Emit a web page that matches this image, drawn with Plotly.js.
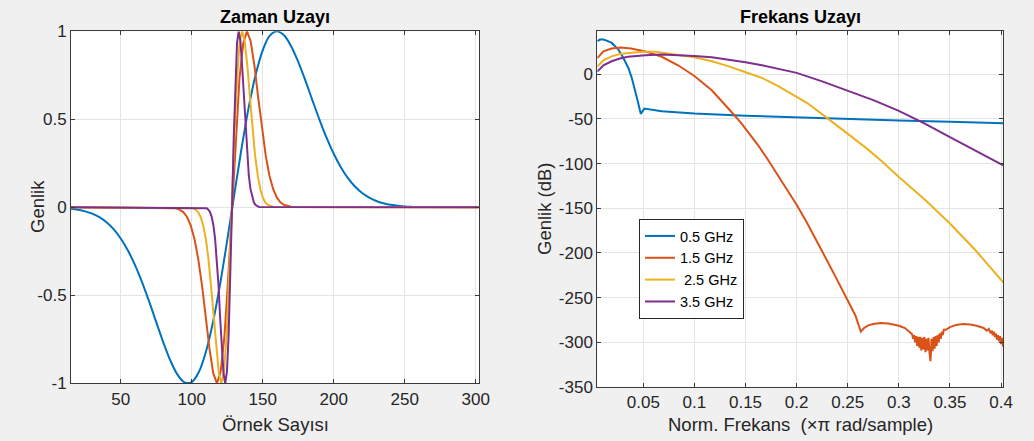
<!DOCTYPE html>
<html>
<head>
<meta charset="utf-8">
<script src="https://cdn.plot.ly/plotly-3.0.1.min.js"></script>
<style>
  html, body { margin: 0; padding: 0; background: #f0f0f0; }
  #chart { width: 1034px; height: 441px; }
</style>
</head>
<body>
<div id="chart"></div>
<script>
// Series labels and colours
const seriesNames = ['0.5 GHz', '1.5 GHz', ' 2.5 GHz', '3.5 GHz'];
const seriesColors = ['#0072BD', '#D95319', '#EDB120', '#7E2F8E'];

// ---- Time domain (Zaman Uzayı): sample number vs normalised amplitude ----
const tBlueX = [15,20,25,30,35,40,45,50,55,60,65,70,75,80,85,90,95,100,105,110,115,120,125,130,135,140,145,150,155,160,165,170,175,180,185,190,195,200,205,210,215,220,225,230,235,240,245,250,255];
const tBlueY = [-0.008,-0.014,-0.023,-0.036,-0.056,-0.085,-0.124,-0.177,-0.244,-0.327,-0.425,-0.535,-0.652,-0.767,-0.871,-0.951,-0.995,-0.993,-0.936,-0.821,-0.652,-0.436,-0.188,0.074,0.330,0.562,0.753,0.892,0.975,1.000,0.977,0.915,0.826,0.721,0.608,0.497,0.394,0.304,0.228,0.166,0.118,0.081,0.055,0.036,0.023,0.014,0.009,0.005,0.003];

const tOrangeX = [15,86.2,88.8,91.4,94.1,96.7,99.3,102.0,104.6,107.3,109.9,112.5,115.2,117.8,120.4,123.1,125.7,128.4,131.0,133.6,136.3,138.9,141.5,144.2,146.8,149.5,152.1,154.7,157.4,160.0,162.6,165.3,167.9,170.6,302];
const tOrangeY = [0,-0.002,-0.006,-0.013,-0.027,-0.055,-0.103,-0.181,-0.295,-0.446,-0.624,-0.803,-0.944,-1.000,-0.933,-0.728,-0.400,0.000,0.400,0.728,0.933,1.000,0.944,0.803,0.624,0.446,0.295,0.181,0.103,0.055,0.027,0.013,0.006,0.002,0];

const tYellowX = [15,99.0,100.8,102.7,104.5,106.3,108.1,110.0,111.8,113.6,115.4,117.3,119.1,120.9,122.7,124.6,126.4,128.2,130.0,131.9,133.7,135.5,137.3,139.2,141.0,142.8,144.6,146.5,148.3,150.1,151.9,153.8,155.6,157.4,302];
const tYellowY = [0,-0.002,-0.006,-0.013,-0.027,-0.055,-0.103,-0.181,-0.295,-0.446,-0.624,-0.803,-0.944,-1.000,-0.933,-0.728,-0.400,0.000,0.400,0.728,0.933,1.000,0.944,0.803,0.624,0.446,0.295,0.181,0.103,0.055,0.027,0.013,0.006,0.002,0];

const tPurpleX = [15,109.4,110.6,111.7,112.9,114.1,115.3,116.5,117.7,118.9,120.0,121.2,122.4,123.6,124.8,126.0,127.2,128.4,129.6,130.7,131.9,133.1,134.3,135.5,136.7,137.9,139.1,140.2,141.4,142.6,143.8,145.0,146.2,147.4,302];
const tPurpleY = [0,-0.002,-0.006,-0.013,-0.027,-0.055,-0.103,-0.181,-0.295,-0.446,-0.624,-0.803,-0.944,-1.000,-0.933,-0.728,-0.400,0.000,0.400,0.728,0.933,1.000,0.944,0.803,0.624,0.446,0.295,0.181,0.103,0.055,0.027,0.013,0.006,0.002,0];

// ---- Frequency domain (Frekans Uzayı): normalised frequency vs dB ----
const fBlueX = [0.005,0.0076,0.0109,0.0142,0.0191,0.0256,0.0305,0.0354,0.0387,0.042,0.0446,0.0475,0.051,0.068,0.1,0.15,0.2,0.25,0.3,0.35,0.4022];
const fBlueY = [36.9,38.7,38.7,37.6,35,27.6,18.2,7,-4.1,-17.2,-30.2,-44.4,-38.5,-41.4,-44,-46.5,-48.5,-50.2,-51.9,-53.3,-55];

const fOrangeX = [0.005,0.011,0.019,0.028,0.038,0.052,0.068,0.084,0.1,0.117,0.125,0.133,0.138,0.146,0.154,0.162,0.171,0.179,0.187,0.195,0.2,0.21,0.22,0.23,0.24,0.25,0.2575,0.2628,
  0.266,0.27,0.275,0.282,0.29,0.3,0.306,0.31,
  0.313,0.314,0.315,0.316,0.317,0.318,0.319,0.32,0.321,0.322,0.323,0.324,0.325,0.326,0.327,0.328,0.329,0.33,0.331,0.332,0.333,0.334,0.335,0.336,0.337,0.338,0.339,0.34,0.341,0.342,0.343,0.344,
  0.346,0.35,0.356,0.363,0.37,0.376,0.38,
  0.383,0.386,0.388,0.39,0.391,0.392,0.393,0.394,0.395,0.396,0.397,0.398,0.399,0.4,0.401,0.4022];
const fOrangeY = [18,25.5,28.7,30,28.8,25.5,19.5,10,-2,-18,-28,-37.5,-44.5,-55,-66.5,-79,-94,-108,-123,-137,-146,-166,-187,-209,-231,-254,-270,-288,
  -284,-281,-279.5,-278.5,-279,-281.5,-284,-288,
  -291,-296,-292,-300,-293,-304,-294,-306,-294,-309,-295,-308,-294,-311,-296,-309,-295,-312,-321,-296,-310,-294,-307,-293,-304,-292,-300,-290,-296,-288,-292,-286,
  -286,-283,-280.5,-279.5,-280,-281.5,-283,
  -284,-287,-285,-290,-287,-292,-288,-294,-290,-297,-292,-299,-293,-302,-295,-305];

const fYellowX = [0.005,0.011,0.019,0.027,0.035,0.05,0.062,0.084,0.1,0.117,0.133,0.15,0.166,0.182,0.2,0.21,0.231,0.25,0.2685,0.285,0.3,0.325,0.35,0.375,0.4022];
const fYellowY = [8.5,15.6,20,22.5,23.8,25,25,22,19,14.5,9,2.2,-4.1,-13.4,-25,-32,-50,-66.5,-83,-99,-115,-140,-167,-197,-233];

const fPurpleX = [0.005,0.011,0.019,0.027,0.035,0.052,0.068,0.084,0.1,0.117,0.133,0.15,0.166,0.182,0.2,0.225,0.25,0.275,0.3,0.325,0.35,0.376,0.4022];
const fPurpleY = [3,10,14.5,17.5,19.4,21.3,22,21.6,20.5,19,16.4,13.4,10,6.3,1.5,-8,-18.5,-29,-41,-55,-70.5,-86,-102];

// ---- Tick labels ----
const timeTicks = [50,100,150,200,250,300];
const timeTickText = ['50','100','150','200','250','300'];
const ampTicks = [-1,-0.5,0,0.5,1];
const ampTickText = ['-1','-0.5','0','0.5','1'];
const freqTicks = [0.05,0.1,0.15,0.2,0.25,0.3,0.35,0.4];
const freqTickText = ['0.05','0.1','0.15','0.2','0.25','0.3','0.35','0.4'];
const dbTicks = [-350,-300,-250,-200,-150,-100,-50,0];
const dbTickText = ['-350','-300','-250','-200','-150','-100','-50','0'];

const timeSeries = [[tBlueX,tBlueY],[tOrangeX,tOrangeY],[tYellowX,tYellowY],[tPurpleX,tPurpleY]];
const freqSeries = [[fBlueX,fBlueY],[fOrangeX,fOrangeY],[fYellowX,fYellowY],[fPurpleX,fPurpleY]];

const traces = [];
timeSeries.forEach(([x, y], i) => {
  traces.push({
    x: x, y: y, type: 'scatter', mode: 'lines', xaxis: 'x', yaxis: 'y',
    name: seriesNames[i], showlegend: false, hoverinfo: 'skip',
    line: { color: seriesColors[i], width: 2, shape: i === 0 ? 'spline' : 'linear' }
  });
});
freqSeries.forEach(([x, y], i) => {
  traces.push({
    x: x, y: y, type: 'scatter', mode: 'lines', xaxis: 'x2', yaxis: 'y2',
    name: seriesNames[i], showlegend: true, hoverinfo: 'skip',
    line: { color: seriesColors[i], width: 2 }
  });
});

const FONT = 'Liberation Sans, Arial, Helvetica, sans-serif';
const W = 1034, H = 441;
const axisBase = {
  showline: true, linecolor: '#3a3a3a', linewidth: 1, mirror: 'ticks',
  ticks: 'inside', ticklen: 4, tickcolor: '#3a3a3a', tickwidth: 1,
  showgrid: true, gridcolor: '#e4e4e4', gridwidth: 1, zeroline: false,
  tickfont: { family: FONT, size: 17, color: '#262626' },
  fixedrange: true
};

const leftDomainX = [71 / W, 479 / W];
const rightDomainX = [597.3 / W, 1003.3 / W];
const leftDomainY = [(H - 383.3) / H, (H - 31.3) / H];
const rightDomainY = [(H - 387) / H, (H - 31.3) / H];

const layout = {
  width: W, height: H,
  margin: { l: 0, r: 0, t: 0, b: 0 },
  paper_bgcolor: '#f0f0f0', plot_bgcolor: '#ffffff',
  font: { family: FONT, color: '#262626' },
  showlegend: true,
  legend: {
    x: 639 / W, y: (H - 219) / H, xanchor: 'left', yanchor: 'top',
    bgcolor: '#ffffff', bordercolor: '#262626', borderwidth: 1,
    font: { family: FONT, size: 14.5, color: '#000000' },
    tracegroupgap: 0
  },
  xaxis: Object.assign({}, axisBase, {
    domain: leftDomainX, anchor: 'y', range: [15, 302.3],
    tickmode: 'array', tickvals: timeTicks, ticktext: timeTickText
  }),
  yaxis: Object.assign({}, axisBase, {
    domain: leftDomainY, anchor: 'x', range: [-1, 1],
    tickmode: 'array', tickvals: ampTicks, ticktext: ampTickText
  }),
  xaxis2: Object.assign({}, axisBase, {
    domain: rightDomainX, anchor: 'y2', range: [0.005, 0.4022],
    tickmode: 'array', tickvals: freqTicks, ticktext: freqTickText
  }),
  yaxis2: Object.assign({}, axisBase, {
    domain: rightDomainY, anchor: 'x2', range: [-350, 48],
    tickmode: 'array', tickvals: dbTicks, ticktext: dbTickText
  }),
  annotations: [
    { text: '<b>Zaman Uzayı</b>', xref: 'paper', yref: 'paper', x: 275 / W, y: (H - 17) / H,
      xanchor: 'center', yanchor: 'middle', showarrow: false, font: { size: 18, color: '#000000' } },
    { text: '<b>Frekans Uzayı</b>', xref: 'paper', yref: 'paper', x: 800.3 / W, y: (H - 17) / H,
      xanchor: 'center', yanchor: 'middle', showarrow: false, font: { size: 18, color: '#000000' } },
    { text: 'Örnek Sayısı', xref: 'paper', yref: 'paper', x: 275 / W, y: (H - 424) / H,
      xanchor: 'center', yanchor: 'middle', showarrow: false, font: { size: 18.5, color: '#262626' } },
    { text: 'Norm. Frekans  (×π rad/sample)', xref: 'paper', yref: 'paper', x: 800.3 / W, y: (H - 424) / H,
      xanchor: 'center', yanchor: 'middle', showarrow: false, font: { size: 18.5, color: '#262626' } },
    { text: 'Genlik', xref: 'paper', yref: 'paper', x: 38 / W, y: (H - 207) / H, textangle: -90,
      xanchor: 'center', yanchor: 'middle', showarrow: false, font: { size: 18.5, color: '#262626' } },
    { text: 'Genlik (dB)', xref: 'paper', yref: 'paper', x: 544 / W, y: (H - 209) / H, textangle: -90,
      xanchor: 'center', yanchor: 'middle', showarrow: false, font: { size: 18.5, color: '#262626' } }
  ]
};

Plotly.newPlot('chart', traces, layout, { staticPlot: true, displayModeBar: false });
</script>
</body>
</html>
